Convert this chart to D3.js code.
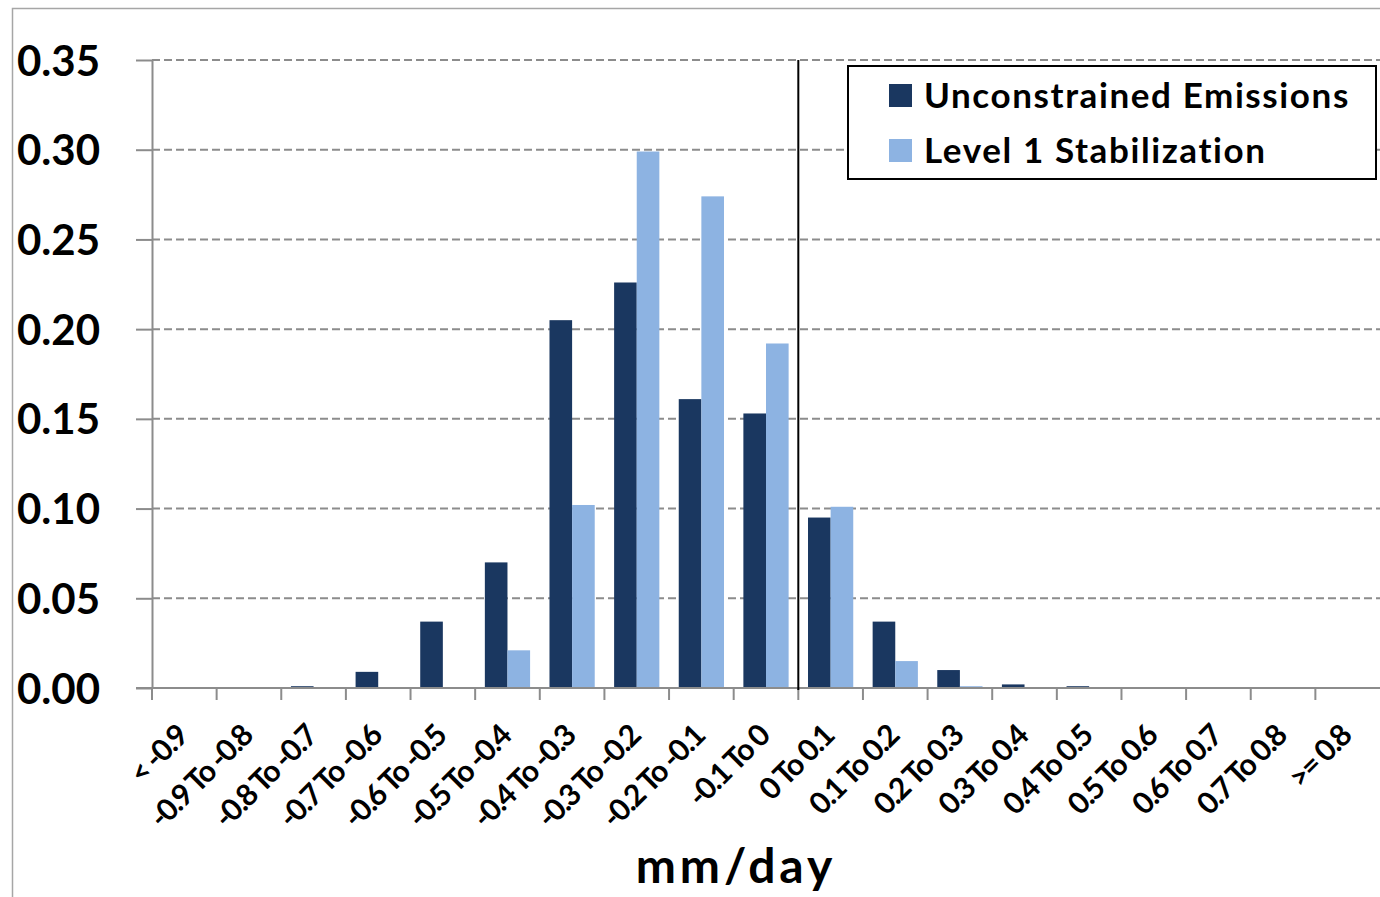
<!DOCTYPE html>
<html>
<head>
<meta charset="utf-8">
<script src="https://cdn.jsdelivr.net/npm/d3@7"></script>
<style>
  body { margin: 0; background: #fff; }
  text { font-family: Lato, "Open Sans", sans-serif; font-weight: bold; fill: #000; }
</style>
</head>
<body>
<div id="vis"></div>
<script>
// bins of the change in mm/day
const categories = ["< -0.9", "-0.9 To -0.8", "-0.8 To -0.7", "-0.7 To -0.6", "-0.6 To -0.5",
  "-0.5 To -0.4", "-0.4 To -0.3", "-0.3 To -0.2", "-0.2 To -0.1", "-0.1 To 0",
  "0 To 0.1", "0.1 To 0.2", "0.2 To 0.3", "0.3 To 0.4", "0.4 To 0.5",
  "0.5 To 0.6", "0.6 To 0.7", "0.7 To 0.8", ">= 0.8"]
const unconstrained = [0, 0, 0.001, 0.009, 0.037, 0.070, 0.205, 0.226, 0.161, 0.153,
  0.095, 0.037, 0.010, 0.002, 0.001, 0, 0, 0, 0]
const level1 = [0, 0, 0, 0, 0, 0.021, 0.102, 0.299, 0.274, 0.192,
  0.101, 0.015, 0.001, 0, 0, 0, 0, 0, 0]
const seriesNames = ["Unconstrained Emissions", "Level 1 Stabilization"]
const yTicks = [0, 0.05, 0.10, 0.15, 0.20, 0.25, 0.30, 0.35]
const zeroBin = "0 To 0.1"

const colors = ["#1a3760", "#8db3e2"]

const W = 1380, H = 897
const margin = {top: 60, right: 0, bottom: 209, left: 152}
const width = W - margin.left - margin.right
const height = H - margin.top - margin.bottom

const svg = d3.select('#vis').append('svg')
    .attr('width', W)
    .attr('height', H)

// outer chart-area border (top and left only, the picture is cropped)
svg.append('path')
    .attr('d', `M12.5,${H} V8.5 H${W}`)
    .attr('fill', 'none')
    .attr('stroke', '#a6a6a6')
    .attr('stroke-width', 1.5)

const g = svg.append('g')
    .attr('transform', `translate(${margin.left},${margin.top})`)

// scales
const xOuter = d3.scaleBand().domain(categories).range([0, width]).padding(0)
const x = d3.scaleBand().domain(categories).range([0, width])
    .paddingInner(0.3).paddingOuter(0.15)
const xSub = d3.scaleBand().domain(seriesNames).range([0, x.bandwidth()])
const y = d3.scaleLinear().domain([0, 0.35]).range([height, 0])

// dashed gridlines
g.selectAll('.grid')
    .data(yTicks.filter(d => d > 0))
    .join('line')
    .attr('x1', 0).attr('x2', width)
    .attr('y1', d => y(d)).attr('y2', d => y(d))
    .attr('stroke', '#8c8c8c')
    .attr('stroke-width', 2)
    .attr('stroke-dasharray', '8,4')

// bars
const rows = categories.map((c, i) => ({cat: c, vals: [unconstrained[i], level1[i]]}))
const groups = g.selectAll('.grp')
    .data(rows)
    .join('g')
    .attr('transform', d => `translate(${x(d.cat)},0)`)
groups.selectAll('rect')
    .data(d => d.vals.map((v, k) => ({name: seriesNames[k], v: v, k: k})))
    .join('rect')
    .attr('x', d => xSub(d.name))
    .attr('width', xSub.bandwidth())
    .attr('y', d => y(d.v))
    .attr('height', d => height - y(d.v))
    .attr('fill', d => colors[d.k])

// y axis
const yAxis = d3.axisLeft(y).tickValues(yTicks).tickFormat(d3.format('.2f'))
    .tickSizeInner(16).tickSizeOuter(0).tickPadding(36)
const ya = g.append('g').call(yAxis)
ya.selectAll('path, line').attr('stroke', '#8c8c8c').attr('stroke-width', 2)
ya.selectAll('text')
    .style('font-size', '42px')
    .attr('dy', '0.36em')

// x axis line
g.append('line')
    .attr('x1', -16).attr('x2', width)
    .attr('y1', height).attr('y2', height)
    .attr('stroke', '#8c8c8c').attr('stroke-width', 2)

// tick marks at bin boundaries
g.selectAll('.xtick')
    .data(categories)
    .join('line')
    .attr('x1', d => xOuter(d)).attr('x2', d => xOuter(d))
    .attr('y1', height).attr('y2', height + 12)
    .attr('stroke', '#8c8c8c').attr('stroke-width', 2)

// rotated category labels
g.selectAll('.xlab')
    .data(categories)
    .join('text')
    .attr('text-anchor', 'end')
    .attr('transform', d => `translate(${xOuter(d) + xOuter.bandwidth() / 2 + 5},${height + 50}) rotate(-45)`)
    .style('font-size', '30px')
    .style('letter-spacing', '-1.8px')
    .text(d => d)

// vertical line at zero
g.append('line')
    .attr('x1', xOuter(zeroBin)).attr('x2', xOuter(zeroBin))
    .attr('y1', 0).attr('y2', height + 2)
    .attr('stroke', '#000').attr('stroke-width', 2)

// axis title
svg.append('text')
    .attr('x', 736)
    .attr('y', 883)
    .attr('text-anchor', 'middle')
    .style('font-size', '48px')
    .style('letter-spacing', '4px')
    .text('mm/day')

// legend
const legend = svg.append('g').attr('transform', 'translate(848,66)')
legend.append('rect')
    .attr('width', 528).attr('height', 113)
    .attr('fill', '#fff').attr('stroke', '#000').attr('stroke-width', 2)
seriesNames.forEach((name, i) => {
  const row = legend.append('g').attr('transform', `translate(41,${18 + i * 55})`)
  row.append('rect').attr('width', 23).attr('height', 23).attr('fill', colors[i])
  row.append('text')
      .attr('x', 35).attr('y', 24)
      .style('font-size', '35px')
      .style('letter-spacing', '1.6px')
      .text(name)
})
</script>
</body>
</html>
